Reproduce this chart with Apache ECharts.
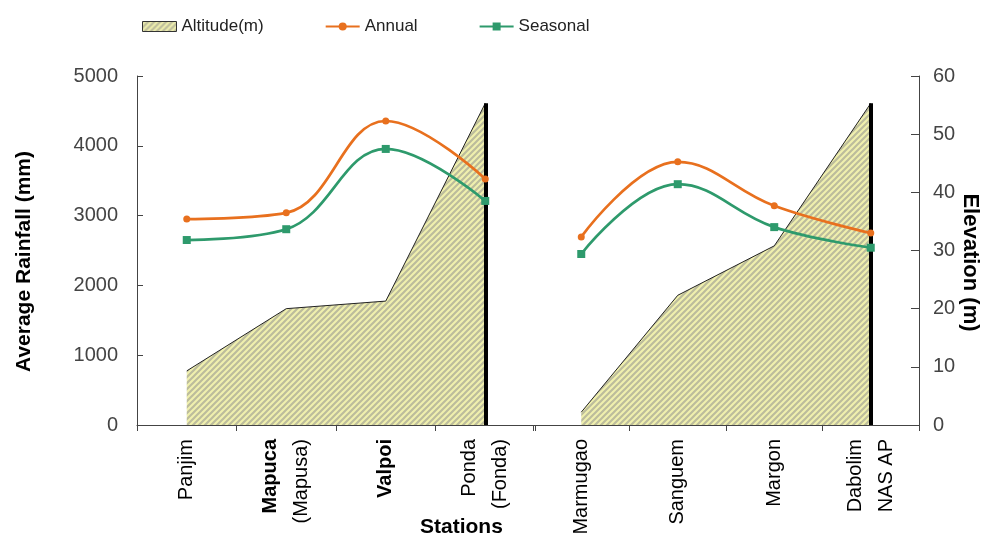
<!DOCTYPE html>
<html>
<head>
<meta charset="utf-8">
<title>Rainfall and altitude by station</title>
<script src="https://cdn.jsdelivr.net/npm/echarts@6/dist/echarts.min.js"></script>
<style>
  html, body { margin: 0; padding: 0; background: #fff; }
  #main { width: 990px; height: 543px; }
</style>
</head>
<body>
<div id="main"></div>
<script>
// stations, split in the two groups drawn side by side
var stationsLeft = ['Panjim', 'Mapuca\n(Mapusa)', 'Valpoi', 'Ponda\n(Fonda)'];
var stationsRight = ['Marmugao', 'Sanguem', 'Margon', 'Dabolim\nNAS AP'];

// average rainfall (mm)
var annualLeft = [2950, 3040, 4355, 3525];
var annualRight = [2695, 3770, 3140, 2750];
var seasonalLeft = [2650, 2805, 3955, 3210];
var seasonalRight = [2450, 3450, 2835, 2540];

// altitude (m)
var altitudeLeft = [9.3, 20, 21.3, 55.3];
var altitudeRight = [2.2, 22.3, 30.8, 55.3];

// axis ranges
var rainMin = 0, rainMax = 5000, rainStep = 1000;
var elevMin = 0, elevMax = 60, elevStep = 10;

var boldLabels = ['Mapuca', 'Valpoi'];

var font = 'Liberation Sans, Arial, sans-serif';

function hatch() {
  var c = document.createElement('canvas');
  c.width = c.height = 6;
  var g = c.getContext('2d');
  g.fillStyle = '#f0f0ae';
  g.fillRect(0, 0, 6, 6);
  g.strokeStyle = '#bcbc9c';
  g.lineWidth = 2.2;
  g.beginPath();
  g.moveTo(0, 6); g.lineTo(6, 0);
  g.moveTo(-3, 3); g.lineTo(3, -3);
  g.moveTo(3, 9); g.lineTo(9, 3);
  g.stroke();
  return c;
}
var hatchFill = { image: hatch(), repeat: 'repeat' };

function stationLabel(v) {
  var parts = v.split('\n');
  return parts.map(function (p) {
    return boldLabels.indexOf(p) >= 0 ? '{b|' + p + '}' : '{n|' + p + '}';
  }).join('\n');
}

function xAxisFor(gridIndex, data) {
  return {
    type: 'category',
    gridIndex: gridIndex,
    data: data,
    boundaryGap: true,
    axisLine: { lineStyle: { color: '#444', width: 1 } },
    axisTick: { show: true, inside: false, length: 6, alignWithLabel: false, lineStyle: { color: '#444' } },
    axisLabel: {
      rotate: 90, interval: 0, margin: 14, color: '#000', fontSize: 20, fontFamily: font,
      lineHeight: 31,
      formatter: stationLabel,
      rich: {
        b: { fontWeight: 'bold', fontSize: 20, fontFamily: font, color: '#000', lineHeight: 31 },
        n: { fontWeight: 'normal', fontSize: 20, fontFamily: font, color: '#000', lineHeight: 31 }
      }
    },
    splitLine: { show: false }
  };
}

function lineSeries(name, color, symbol, size, xi, yi, data) {
  return {
    name: name, type: 'line', xAxisIndex: xi, yAxisIndex: yi, data: data,
    smooth: 0.4, symbol: symbol, symbolSize: size, z: 5,
    lineStyle: { color: color, width: 2.7 },
    itemStyle: { color: color }
  };
}

function areaSeries(xi, yi, data) {
  return {
    name: 'Altitude(m)', type: 'line', xAxisIndex: xi, yAxisIndex: yi, data: data,
    symbol: 'none', z: 2,
    lineStyle: { color: '#222', width: 1 },
    itemStyle: { color: '#222' },
    areaStyle: { color: hatchFill, opacity: 1 },
    markLine: {
      silent: true, symbol: ['none', 'none'], label: { show: false },
      lineStyle: { color: '#000', width: 4, type: 'solid' },
      data: [[{ coord: [data.length - 1, 0] }, { coord: [data.length - 1, data[data.length - 1]] }]]
    }
  };
}

function plain(v) { return String(v); }

var myChart = echarts.init(document.getElementById('main'));
var option = {
  backgroundColor: '#fff',
  animation: false,
  legend: {
    left: 137, top: 13,
    itemWidth: 34, itemHeight: 10, itemGap: 61,
    textStyle: { fontSize: 17, color: '#222', fontFamily: font },
    data: [
      { name: 'Altitude(m)', icon: 'rect', itemStyle: { color: hatchFill, borderColor: '#333', borderWidth: 1 } },
      'Annual',
      'Seasonal'
    ]
  },
  grid: [
    { left: 137, right: 455, top: 76, bottom: 118 },
    { left: 533, right: 71, top: 76, bottom: 118 }
  ],
  xAxis: [xAxisFor(0, stationsLeft), xAxisFor(1, stationsRight)],
  yAxis: [
    {
      type: 'value', gridIndex: 0, position: 'left',
      min: rainMin, max: rainMax, interval: rainStep,
      name: 'Average Rainfall (mm)', nameLocation: 'middle', nameGap: 102,
      nameTextStyle: { fontSize: 21, fontWeight: 'bold', color: '#000', fontFamily: font, padding: [0, 22, 0, 0] },
      axisLine: { show: true, lineStyle: { color: '#444' } },
      axisTick: { show: true, inside: true, length: 6, lineStyle: { color: '#444' } },
      axisLabel: { margin: 19, fontSize: 20, color: '#444', fontFamily: font, formatter: plain },
      splitLine: { show: false }
    },
    {
      type: 'value', gridIndex: 0, position: 'right', show: false,
      min: elevMin, max: elevMax, interval: elevStep, splitLine: { show: false }
    },
    {
      type: 'value', gridIndex: 1, position: 'left', show: false,
      min: rainMin, max: rainMax, interval: rainStep, splitLine: { show: false }
    },
    {
      type: 'value', gridIndex: 1, position: 'right',
      min: elevMin, max: elevMax, interval: elevStep,
      name: 'Elevation (m)', nameLocation: 'middle', nameGap: 36, nameRotate: -90,
      nameTextStyle: { fontSize: 22, fontWeight: 'bold', color: '#000', fontFamily: font, padding: [0, 0, 0, 24] },
      axisLine: { show: true, lineStyle: { color: '#444' } },
      axisTick: { show: true, inside: true, length: 8, lineStyle: { color: '#444' } },
      axisLabel: { margin: 14, fontSize: 20, color: '#444', fontFamily: font, formatter: plain },
      splitLine: { show: false }
    }
  ],
  graphic: [{
    type: 'text', left: 420, top: 517,
    style: { text: 'Stations', fill: '#000', font: 'bold 21px ' + font }
  }],
  series: [
    areaSeries(0, 1, altitudeLeft),
    areaSeries(1, 3, altitudeRight),
    lineSeries('Annual', '#e8701e', 'circle', 7, 0, 0, annualLeft),
    lineSeries('Annual', '#e8701e', 'circle', 7, 1, 2, annualRight),
    lineSeries('Seasonal', '#2e9a6c', 'rect', 8, 0, 0, seasonalLeft),
    lineSeries('Seasonal', '#2e9a6c', 'rect', 8, 1, 2, seasonalRight)
  ]
};
myChart.setOption(option);
</script>
</body>
</html>
